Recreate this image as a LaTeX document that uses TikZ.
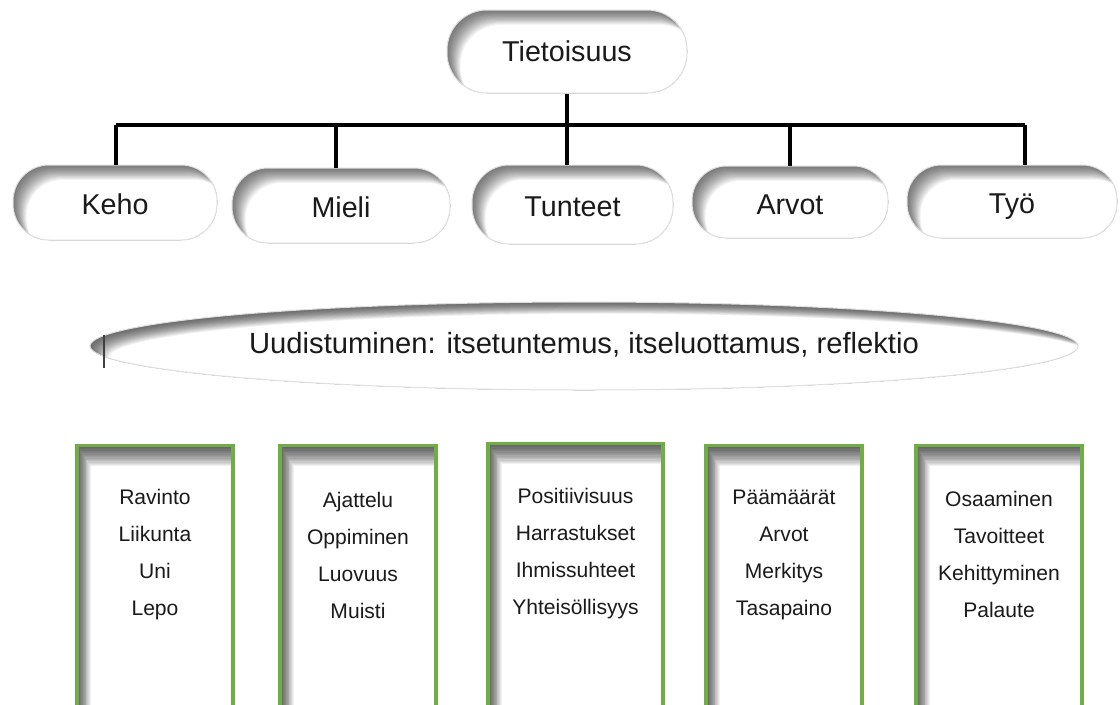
\documentclass[tikz,border=0pt]{standalone}
\usepackage{fontspec}
\setmainfont{Liberation Sans}
\usetikzlibrary{calc,shapes.geometric}
\definecolor{boxgreen}{RGB}{112,173,71}
\definecolor{inktext}{RGB}{26,26,26}

% inner shadow for pills: shifted copies, lighter each step
\newcommand\pillshade[1]{%
  \foreach \k in {0,...,16}{%
    \pgfmathsetmacro\g{52*(1-\k/16)*(1+0.5*\k/16)}%
    \fill[black!\g, rounded corners=#1]
      ($(path picture bounding box.north west)+(\k*0.64pt,-\k*0.7pt)$) rectangle
      ($(path picture bounding box.south east)+(\k*0.64pt,-\k*0.7pt)$);
  }}
\newcommand\boxshade{%
  \foreach \k in {0,...,16}{%
    \pgfmathsetmacro\g{62*(1-\k/16)*(1+0.5*\k/16)}%
    \fill[black!\g]
      ($(path picture bounding box.north west)+(\k*0.64pt,-\k*0.98pt)$) rectangle
      ($(path picture bounding box.south east)+(\k*0.64pt,-\k*0.98pt)$);
  }}
\newcommand\ellshade{%
  \foreach \k in {0,...,16}{%
    \pgfmathsetmacro\g{58*(1-\k/16)*(1+0.5*\k/16)}%
    \fill[black!\g]
      ($(path picture bounding box.center)+(\k*0.9pt,-\k*0.55pt)$)
      ellipse [x radius=370.5pt, y radius=33pt];
  }}

\tikzset{
  pill/.style={rectangle, rounded corners=#1, fill=white, draw=black!13,
    line width=0.75pt, inner sep=0pt, text=inktext,
    text height=18.5pt, text depth=0pt,
    font=\fontsize{21.5}{25}\selectfont, path picture={\pillshade{#1}}},
  conn/.style={draw=black, line width=2.4pt},
  gbox/.style={rectangle, anchor=north, fill=white, draw=boxgreen,
    line width=2.3pt, minimum height=225pt, inner sep=0pt,
    path picture={\boxshade}},
  boxtext/.style={align=center, text=inktext, inner sep=0pt,
    font=\fontsize{15.8}{27.75}\selectfont},
  renewal/.style={ellipse, fill=white, draw=black!13, line width=0.75pt,
    inner sep=0pt, minimum width=741pt, minimum height=66pt,
    path picture={\ellshade}},
}

\begin{document}
\begin{tikzpicture}[x=0.75pt,y=-0.75pt]
\useasboundingbox (0,0) rectangle (1120,704);
\clip (0,0) rectangle (1120,704);

% top level
\node[pill=30pt, minimum width=180pt, minimum height=62.25pt, text height=15.5pt] (top) at (567,51.5) {Tietoisuus};

% second level
\node[pill=27pt, minimum width=153pt,   minimum height=56.25pt] (keho)    at (115,202.5)   {Keho};
\node[pill=27pt, minimum width=163.5pt, minimum height=56.25pt] (mieli)   at (341,205.5)   {Mieli};
\node[pill=28pt, minimum width=150.75pt,minimum height=59.25pt] (tunteet) at (572.5,204.5) {Tunteet};
\node[pill=26pt, minimum width=147pt,   minimum height=54pt]    (arvot)   at (790,202)     {Arvot};
\node[pill=26pt, minimum width=157.5pt, minimum height=54.75pt] (tyo)     at (1012,201.5)  {Työ};

% connectors
\coordinate (bus) at (0,125);
\coordinate (kehoT)    at ([xshift=0.75pt]keho.north);
\coordinate (mieliT)   at ([xshift=-3.75pt]mieli.north);
\coordinate (tunteetT) at ([xshift=-4.1pt]tunteet.north);
\coordinate (arvotT)   at (arvot.north);
\coordinate (tyoT)     at ([xshift=9.75pt]tyo.north);
\draw[conn] (top.south) -- (top.south |- bus);
\draw[conn] (kehoT |- bus) -- (tyoT |- bus);
\draw[conn] (kehoT |- bus) -- (kehoT);
\draw[conn] (mieliT |- bus) -- (mieliT);
\draw[conn] (tunteetT |- bus) -- (tunteetT);
\draw[conn] (arvotT |- bus) -- (arvotT);
\draw[conn] (tyoT |- bus) -- (tyoT);

% renewal ellipse
\node[renewal] (renew) at (584,346) {};
\node[text=inktext, font=\fontsize{21.9}{25}\selectfont] (renewtext) at (584,345)
  {Uudistuminen: itsetuntemus, itseluottamus, reflektio};
\draw[black!75, line width=0.8pt] (104,335) -- (104,368);

% green boxes
\node[gbox, minimum width=117pt]    (b1) at (155,444) {};
\node[gbox, minimum width=117pt]    (b2) at (358,444) {};
\node[gbox, minimum width=131.25pt] (b3) at (575.5,442) {};
\node[gbox, minimum width=117pt]    (b4) at (784,444) {};
\node[gbox, minimum width=124.5pt]  (b5) at (999,444) {};

\node[boxtext] (t1) at (155,554.5)   {Ravinto\\Liikunta\\Uni\\Lepo};
\node[boxtext] (t2) at (358,555)     {Ajattelu\\Oppiminen\\Luovuus\\Muisti};
\node[boxtext] (t3) at (575.5,553.5) {Positiivisuus\\Harrastukset\\Ihmissuhteet\\Yhteisöllisyys};
\node[boxtext] (t4) at (784,554.5)   {Päämäärät\\Arvot\\Merkitys\\Tasapaino};
\node[boxtext] (t5) at (999,554.5)   {Osaaminen\\Tavoitteet\\Kehittyminen\\Palaute};
\end{tikzpicture}
\end{document}
